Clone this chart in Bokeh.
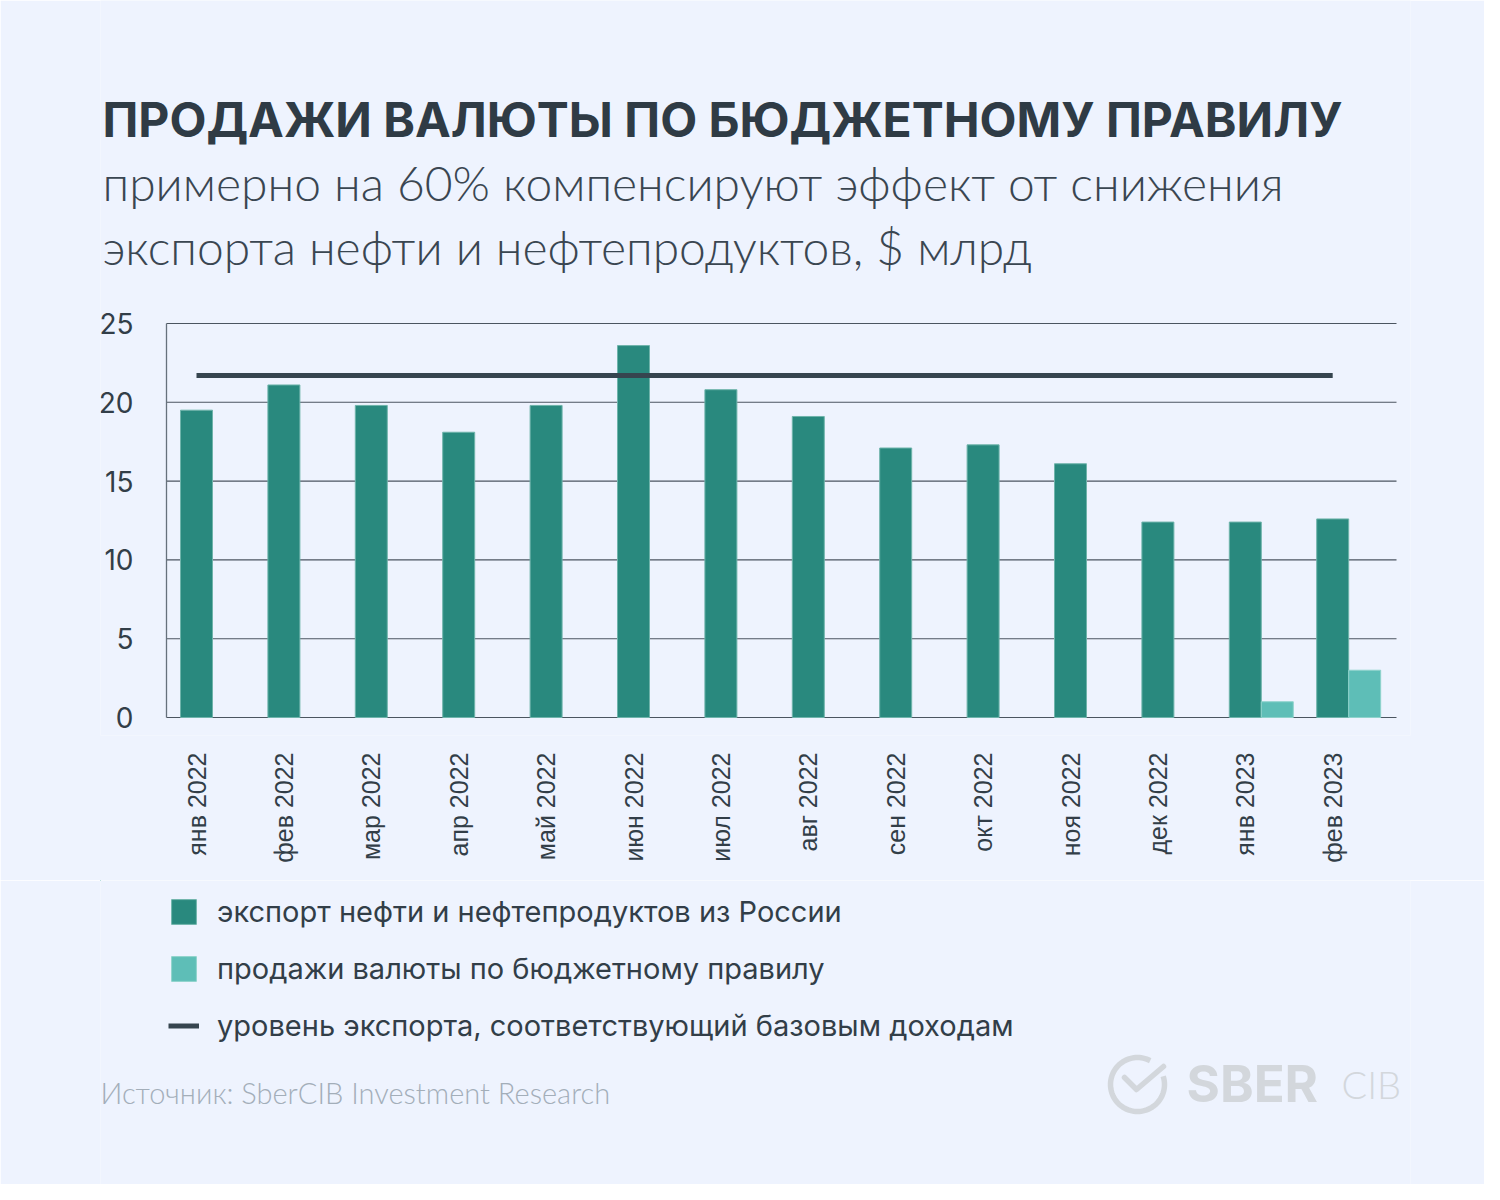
import math
from bokeh.plotting import figure
from bokeh.models import (Range1d, FixedTicker, Legend, LegendItem, ColumnDataSource)
from bokeh.layouts import column
from bokeh.transform import dodge
from bokeh.core.properties import value
from bokeh.embed import file_html
from bokeh.resources import INLINE

# ---------------- data ----------------
months = ["янв 2022", "фев 2022", "мар 2022", "апр 2022", "май 2022", "июн 2022",
          "июл 2022", "авг 2022", "сен 2022", "окт 2022", "ноя 2022", "дек 2022",
          "янв 2023", "фев 2023"]
oil_export = [19.5, 21.1, 19.8, 18.1, 19.8, 23.6, 20.8, 19.1, 17.1, 17.3, 16.1, 12.4, 12.4, 12.6]
fx_sales = [float("nan")] * 12 + [1.0, 3.0]
base_level = 21.7
y_ticks = [0, 5, 10, 15, 20, 25]

title_text = "ПРОДАЖИ ВАЛЮТЫ ПО БЮДЖЕТНОМУ ПРАВИЛУ"
subtitle_lines = ["примерно на 60% компенсируют эффект от снижения",
                  "экспорта нефти и нефтепродуктов, $ млрд"]
legend_labels = ["экспорт нефти и нефтепродуктов из России",
                 "продажи валюты по бюджетному правилу",
                 "уровень экспорта, соответствующий базовым доходам"]
source_text = "Источник: SberCIB Investment Research"
logo_words = ["SBER", "CIB"]

# ---------------- style / layout ----------------
BG = "#eef3fe"
DARK = "#29897e"
LIGHT = "#5ebeb7"
LINE = "#36454f"
TEXT = "#323e48"
GRID = "#4b5560"
W, H = 1484, 1184
FONT = "Inter"
LIGHT_FONT = "'Lato Light', 'Open Sans Light', Lato"
BL, BR = 100, 1410          # left / right edge of the shared frame (page px)
CL, CR, CT, CB = 166, 1396, 323, 717   # chart area (page px)
FB = 735                    # bottom of the chart figure's frame (page px)
X0, DX = 196, 87.4          # page x of first month, px per month
CH = 880                    # height of the chart figure

x_lo = (CL - X0) / DX
x_hi = (CR - X0) / DX
px_per_unit = (CB - CT) / 25.0

xs = list(range(len(months)))
src = ColumnDataSource(dict(x=xs, export=oil_export, sales=fx_sales))
bw = 0.366

p = figure(width=W, height=CH,
           x_range=Range1d((BL - X0) / DX, (BR - X0) / DX),
           y_range=Range1d(-(FB - CB) / px_per_unit, CB / px_per_unit),
           toolbar_location=None, output_backend="svg",
           min_border_left=BL, min_border_right=W - BR, min_border_top=0,
           min_border_bottom=CH - FB,
           background_fill_color=BG, border_fill_color=BG, outline_line_color=None)
p.extra_x_ranges = {"px": Range1d(BL, BR)}
p.extra_y_ranges = {"px": Range1d(FB, 0)}
p.xgrid.visible = False
p.ygrid.visible = False

# horizontal grid lines at the tick values (the one at 0 is the base line)
p.segment(x0=[x_lo] * len(y_ticks), x1=[x_hi] * len(y_ticks), y0=y_ticks, y1=y_ticks,
          line_color=GRID, line_width=1.1)

r_exp = p.vbar(x="x", top="export", width=bw, source=src, fill_color=DARK,
               line_color="#6fb4ab", line_width=1)
r_sales = p.vbar(x=dodge("x", bw), top="sales", width=bw, source=src,
                 fill_color=LIGHT, line_color="#8fd3cc", line_width=1)
r_line = p.line(x=[xs[0], xs[-1]], y=[base_level, base_level], line_color=LINE,
                line_width=5)

for ax in (p.xaxis, p.yaxis):
    ax.major_tick_line_color = None
    ax.minor_tick_line_color = None
    ax.major_tick_out = 0
    ax.minor_tick_out = 0
    ax.major_tick_in = 0
    ax.minor_tick_in = 0
    ax.axis_line_color = "#66717c"
    ax.axis_line_width = 1.3
    ax.major_label_text_color = TEXT

p.yaxis.fixed_location = x_lo
p.yaxis.bounds = (0, 25)
p.yaxis.ticker = FixedTicker(ticks=y_ticks)
p.yaxis.major_label_standoff = 33
p.yaxis.major_label_text_font = FONT
p.yaxis.major_label_text_font_size = "28px"

p.xaxis.bounds = (x_lo, x_hi)
p.xaxis.axis_line_color = None
p.xaxis.ticker = FixedTicker(ticks=xs)
p.xaxis.major_label_overrides = {i: m for i, m in zip(xs, months)}
p.xaxis.major_label_orientation = math.pi / 2
p.xaxis.major_label_standoff = 17
p.xaxis.major_label_text_font = "Liberation Sans"
p.xaxis.major_label_text_font_size = "25px"

# header texts (page-pixel coordinates)
p.text(x=[102], y=[119], text=[title_text], x_range_name="px", y_range_name="px",
       text_font=value(FONT), text_font_style="bold", text_font_size="48px",
       text_color="#2f3b45", text_baseline="alphabetic")
p.text(x=[102, 102], y=[182, 246], text=subtitle_lines, x_range_name="px", y_range_name="px",
       text_font=value(LIGHT_FONT), text_font_size="48px", text_color="#3a4651",
       text_baseline="alphabetic")

# ---------------- footer figure: legend, source, logo ----------------
foot = figure(width=W, height=H - CH, x_range=Range1d(BL, BR), y_range=Range1d(H, CH),
              x_axis_type=None, y_axis_type=None, toolbar_location=None,
              output_backend="svg", min_border_left=BL, min_border_right=W - BR,
              min_border_top=0, min_border_bottom=0, outline_line_color=None,
              background_fill_color=BG, border_fill_color=BG)
foot.grid.visible = False

# legend swatches: same styles as the chart marks, placed outside the visible area
k_exp = foot.vbar(x=[-5000], top=[0], bottom=[1], width=1, fill_color=DARK,
                  line_color="#6fb4ab", line_width=1)
k_sales = foot.vbar(x=[-5000], top=[0], bottom=[1], width=1, fill_color=LIGHT,
                    line_color="#8fd3cc", line_width=1)
k_line = foot.line(x=[-5000, -4999], y=[0, 0], line_color=LINE, line_width=5)
legend = Legend(items=[LegendItem(label=legend_labels[0], renderers=[k_exp]),
                       LegendItem(label=legend_labels[1], renderers=[k_sales]),
                       LegendItem(label=legend_labels[2], renderers=[k_line])],
                location=(68, 141), orientation="vertical", glyph_width=31, glyph_height=31,
                label_standoff=18, spacing=22, padding=0, margin=0,
                border_line_color=None, background_fill_alpha=0,
                label_text_font=FONT, label_text_font_size="29px", label_text_color=TEXT)
foot.add_layout(legend, "center")

foot.text(x=[100], y=[1092], text=[source_text], text_font=value(LIGHT_FONT),
          text_font_size="29px", text_color="#a3aeb9", text_baseline="middle")

LOGO = "#d3d7dc"
cx, cy, rr = 1137, 1084, 27
ring_x = [cx + rr * math.cos(math.radians(a)) for a in range(62, 381, 4)]
ring_y = [cy - rr * math.sin(math.radians(a)) for a in range(62, 381, 4)]
foot.line(x=ring_x, y=ring_y, line_color=LOGO, line_width=5.5)
foot.line(x=[1124, 1136, 1163], y=[1077, 1089, 1066], line_color=LOGO, line_width=5.5,
          line_join="round", line_cap="round")
foot.text(x=[1186], y=[1083], text=[logo_words[0]], text_font=value(FONT),
          text_font_style="bold", text_font_size="51px", text_color=LOGO,
          text_baseline="alphabetic")
foot.text(x=[1341], y=[1083], text=[logo_words[1]], text_font=value(LIGHT_FONT),
          text_font_size="38px", text_color=LOGO, text_baseline="alphabetic")

open("out.html", "w").write(file_html(column(p, foot), INLINE))
